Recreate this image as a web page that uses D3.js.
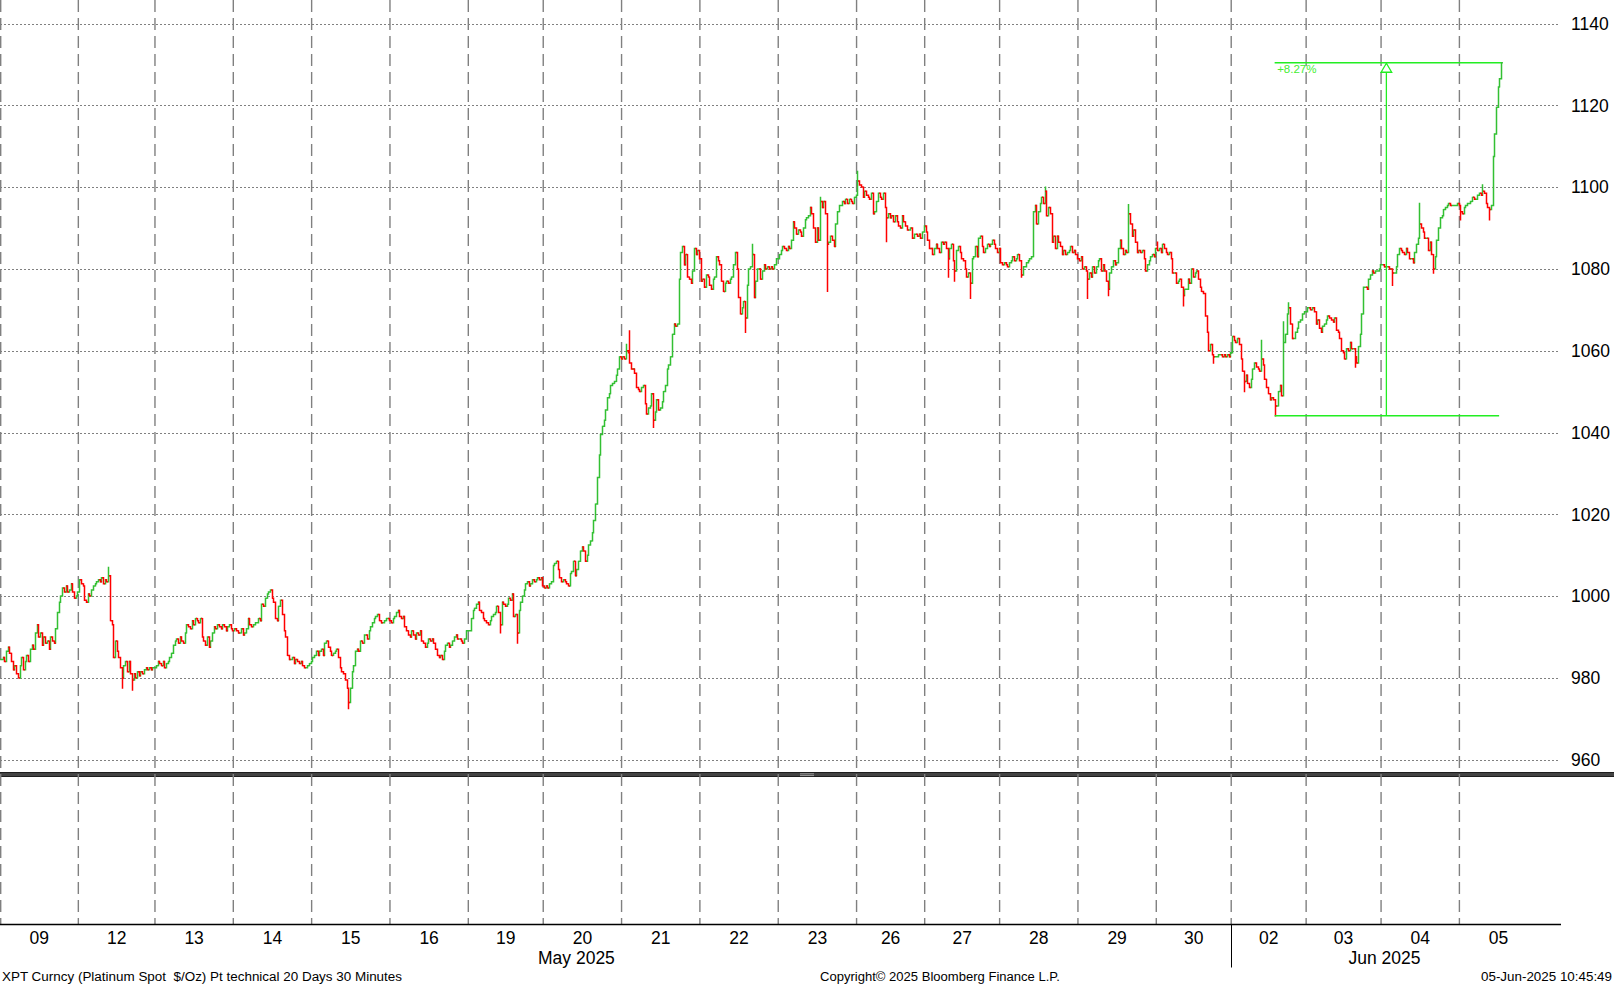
<!DOCTYPE html>
<html><head><meta charset="utf-8">
<script src="https://cdn.jsdelivr.net/npm/d3@7"></script>
<style>body{margin:0;background:#fff;} svg{display:block;}</style>
</head><body>
<svg id="c" width="1614" height="985"></svg>
<script>
// ---------- data (30-minute closes) ----------
const dayLabels = ["09","12","13","14","15","16","19","20","21","22","23","26","27","28","29","30","02","03","04","05"];
const may09 = [984.5,985,984,986.5,987.5,986,984,982,983,981,980,983,985,982,984,985.5,984,987,988,987,991,993,990,991,988,990,988.5,989,987,990,989,988.5,992,996,998.5,1000,1002,1001,1002.5,1001,1001.5,1003,1001,999.5,1000,1001];
const may12 = [1004,1003,1002.5,999,998.5,1000.5,1000,1001.5,1002.5,1003,1003.5,1004,1003.5,1004.5,1003,1004,1003.5,1005,994,993,985,989,986.5,985,982.5,980,983,984,981.5,984,981,979.5,981,980,981.5,980.5,981.5,981,982,982.5,982,982.5,982,982.5,982.5];
const may13 = [983,984,983.5,983,984,982.5,983.5,984,985,986,988,989,989.5,988.5,990,989,988.5,991,993,992.5,992,994,993,994.5,994,993.5,994.5,990,989,988,990,987.5,989,991,992.5,992,993,992.5,992,993,992.5,991.5,992.5,993,992,991.5];
const may14 = [992,991.5,991,991,992,990.5,991,992,994.5,993,992.5,993,993.5,993.5,994.5,994,998,997.5,999.5,1000.5,1001,1001.5,999.5,998.5,994.5,994,997.5,999,995.5,991.5,990,985.5,984.5,984.5,985,983.5,984.5,984,983.5,984,983,982.5,982.5,983,983.5,984];
const may15 = [985,985.5,986.5,985.5,986.5,987,985.5,988.5,989,987.5,986.5,985.5,986,986.5,987,985,982.5,981.5,981,979.5,977.5,974,977.5,981.5,983,986.5,987,986.5,989,988.5,990.5,990.5,989.5,991.5,992.5,993.5,994.5,995,995.5,994,993.5,993.5,994,994.5,994.5,994];
const may16 = [993.5,994.5,995,996,996.5,995,994.5,995,992.5,991.5,990.5,990,991.5,990.5,989.5,991,990.5,991.5,989,988.5,987.5,988.5,989.5,989,989.5,988.5,987,985.5,985,985.5,984.5,986.5,988,988.5,987.5,988,989,990,990.5,989.5,989.5,989,988.5,989.5,991.5,991.5];
const may19 = [991.5,994.5,996.5,997,998,998.5,996.5,996,994.5,994,993.5,993,994,995,995.5,996,997.5,996,993,998.5,998,997.5,998,999.5,999,1000.5,995,995.5,991,996.5,998.5,1000,1001.5,1003,1003.5,1002.5,1003,1004,1003.5,1004,1004.5,1004,1004.5,1002.5];
const may20 = [1002,1002.5,1002,1003,1003.5,1007.5,1008,1008.5,1006.5,1004.5,1003.5,1004,1003.5,1003,1002.5,1005.5,1006,1008.5,1005,1006.5,1008.5,1011,1012,1011,1008.5,1010,1012.5,1013.5,1015.5,1018.5,1022.5,1029,1034.5,1039.5,1041.5,1043,1045.5,1048.5,1049.5,1051.5,1052,1052.5,1054,1055.5,1058.5,1058];
const may21 = [1058.5,1058,1060,1059.5,1057,1055.5,1055.5,1054.5,1051,1050.5,1050,1051,1051.5,1047,1044.5,1046,1046.5,1049.5,1043,1045,1048,1045.5,1046,1047.5,1050,1051.5,1055.5,1056.5,1058.5,1064,1066.5,1066,1066.5,1077.5,1084,1085.5,1081,1083.5,1078,1077.5,1076.5,1079.5,1085,1083.5,1084.5,1082.5];
const may22 = [1077,1077.5,1075.5,1078.5,1078,1076,1075,1077.5,1078,1083,1082,1081,1077,1074.5,1076.5,1077,1076.5,1077.5,1078,1081,1084,1080,1073,1069,1070.5,1072,1068,1076,1080,1080.5,1083.5,1073,1077,1080,1080,1077.5,1079.5,1081,1080,1080.5,1080,1080.5,1080,1081,1082.5,1082.5];
const may23 = [1083.5,1084.5,1085.5,1085,1084.5,1085.5,1085,1087,1091.5,1090,1088.5,1089.5,1089,1088,1090,1092,1092.5,1093,1095,1093.5,1090,1086.5,1090,1087,1096.5,1095,1096.5,1093.5,1086,1086.5,1088,1087,1085.5,1091,1094,1095.5,1095.5,1096.5,1096,1097,1096,1097,1096.5,1096,1097.5,1098];
const may26 = [1101.5,1100.5,1100,1097.5,1099,1098,1097.5,1097,1098.5,1093.5,1094,1096.5,1098.5,1097.5,1097,1098.5,1095,1092.5,1093.5,1092.5,1093,1091.5,1093,1091.5,1090.5,1090,1093,1091.5,1090.5,1089.5,1089.5,1090,1087.5,1088.5,1088.5,1088,1088.5,1087.5,1089,1090.5];
const may27 = [1089,1087,1085,1085,1083.5,1085,1086,1085,1084,1086.5,1086,1086.5,1085,1082.5,1085,1086,1082,1079.5,1084.5,1085.5,1084,1082.5,1082,1080,1078,1079,1076.5,1082.5,1083,1085.5,1083,1087.5,1088,1085.5,1084,1085,1086,1085.5,1086,1087,1086,1085,1084,1085];
const may28 = [1081.5,1081,1081.5,1081,1080.5,1081.5,1082,1083,1082,1082.5,1083.5,1082,1078.5,1080.5,1080.5,1081.5,1082,1082.5,1083,1094,1095.5,1091,1094,1096,1097.5,1096,1099,1093,1095,1093.5,1086.5,1088,1085,1088,1086.5,1085.5,1083.5,1084.5,1083.5,1084,1084.5,1085.5,1084,1084.5,1083.5,1082.5];
const may29 = [1082,1083,1080,1080.5,1079.5,1077.5,1079,1078,1080.5,1079,1080.5,1082,1082.5,1079.5,1081,1079.5,1077,1075,1079,1080.5,1082,1081,1081.5,1085,1087,1085,1083.5,1084.5,1084,1093.5,1091,1088,1089.5,1086.5,1084,1084.5,1084,1084.5,1082.5,1079.5,1081,1082,1083,1083.5,1083,1085];
const may30 = [1084.5,1085,1084,1086,1085,1084,1083.5,1084,1082.5,1079,1079,1076.5,1077,1077.5,1075.5,1073.5,1075,1075,1077.5,1076.5,1080,1078,1079,1079.5,1077.5,1075.5,1074.5,1074,1068.5,1064.5,1060,1061.5,1059,1058.5,1058.5,1058.5,1059,1059,1058.5,1059,1058.5,1059,1058.5,1059.5];
const jun02 = [1063.5,1062.5,1062,1063,1061.5,1058,1055,1052.5,1054,1052,1051,1053,1055.5,1057,1056,1055.5,1055,1058,1056.5,1053,1051,1049.5,1048,1048.5,1048,1046.5,1046.5,1050,1051.5,1049,1062,1064,1069,1070.5,1066.5,1063,1063,1064.5,1065.5,1067,1067.5,1069,1069.5,1069.5];
const jun03 = [1070.5,1070.5,1070,1070.5,1069.5,1066.5,1067.5,1065.5,1064.5,1066,1066.5,1067.5,1068.5,1068,1067.5,1067,1068,1065,1064.5,1063,1060,1059.5,1058,1060.5,1060,1062,1060.5,1060.5,1058.5,1057,1061,1064,1069,1075.5,1075.5,1075,1077.5,1078.5,1079.5,1079,1079.5,1079.5,1080,1081];
const jun04 = [1081,1080.5,1080.5,1080.5,1080,1080,1079,1079,1080.5,1083.5,1085,1084.5,1084,1083.5,1085,1084,1082.5,1082.5,1081.5,1084,1086,1087.5,1091,1090,1089,1087.5,1087.5,1084.5,1086.5,1083.5,1080,1083,1087,1090,1092.5,1093,1094.5,1095,1095.5,1096,1095.5,1095.5,1095.5,1095.5,1096,1095.5];
const jun05 = [1094,1093.5,1095,1095.5,1096,1096,1096.5,1097.5,1097,1097,1098,1098.5,1098,1099,1098.5,1096,1095,1094.5,1095.5,1107.5,1113,1119.5,1124.5,1126.5,1130.4];
const dayCloses = [may09,may12,may13,may14,may15,may16,may19,may20,may21,may22,may23,may26,may27,may28,may29,may30,jun02,jun03,jun04,jun05];
// wicks beyond open/close: [day, bar in day, high, low]
const wicks = [
  ["12",17,1007,null],["12",25,null,977.5],["12",31,null,977],
  ["15",21,null,972.5],
  ["19",18,null,991],["19",28,null,988.5],
  ["21",2,1061.5,null],["21",4,1064.8,null],["21",18,null,1041.3],
  ["22",26,null,1064.5],["22",30,1086,null],
  ["23",24,1097.5,null],["23",28,null,1074.5],
  ["26",0,1103.8,null],["26",17,null,1086.7],
  ["27",13,null,1078],["27",17,null,1077],["27",26,null,1072.8],
  ["28",12,null,1078],["28",26,1100,null],
  ["29",5,null,1072.8],["29",17,null,1073.5],["29",29,1095.7,null],
  ["30",0,1086.5,null],["30",15,null,1071],["30",33,null,1057],
  ["02",7,null,1050],["02",17,1062.5,null],["02",25,null,1044.1],["02",30,1067,null],["02",33,1071.7,null],
  ["03",28,null,1056],
  ["04",6,null,1076],["04",22,1096,null],["04",30,null,1079],
  ["05",0,null,1092],["05",13,1100.5,null],["05",17,null,1092]
];
const yTicks = [960,980,1000,1020,1040,1060,1080,1100,1120,1140];
const months = ["May 2025","Jun 2025"];
const footLeft = "XPT Curncy (Platinum Spot\u00A0 $/Oz) Pt technical 20 Days 30 Minutes";
const footMid = "Copyright\u00A9 2025 Bloomberg Finance L.P.";
const footRight = "05-Jun-2025 10:45:49";

// ---------- build bars ----------
const bars = [], dayStart = [];
let idx = 0, prev = null;
dayCloses.forEach((arr, d) => {
  dayStart.push(idx);
  arr.forEach((c, j) => {
    const o = prev == null ? c : prev;
    bars.push({i: idx, day: dayLabels[d], j, o, c, h: Math.max(o, c), l: Math.min(o, c)});
    prev = c; idx++;
  });
});
dayStart.push(idx);
wicks.forEach(([day, j, hi, lo]) => {
  const b = bars.find(b => b.day === day && b.j === j);
  if (!b) return;
  if (hi != null) b.h = Math.max(b.h, hi);
  if (lo != null) b.l = Math.min(b.l, lo);
});

// ---------- scales ----------
const W = 1614, H = 985;
const FULL_DAY = 46;
const x = d3.scaleLinear().domain([0, dayStart[dayStart.length - 2]]).range([0, 1459.4]);
const y = d3.scaleLinear().domain([960, 1140]).range([759.7, 23.5]);
const axisY = 924.5, gridRight = 1558;

const svg = d3.select("#c");
svg.append("rect").attr("width", W).attr("height", H).attr("fill", "#fff");
const FONT = "'Liberation Sans', Arial, sans-serif";

// horizontal grid
svg.append("g").selectAll("line").data(yTicks).join("line")
  .attr("x1", 0).attr("x2", gridRight)
  .attr("y1", d => Math.round(y(d)) + 0.5).attr("y2", d => Math.round(y(d)) + 0.5)
  .attr("stroke", "#808080").attr("stroke-width", 1).attr("stroke-dasharray", "2,2");

// panel separator band
svg.append("rect").attr("x", 0).attr("y", 772).attr("width", W).attr("height", 5).attr("fill", "#434343");
svg.append("line").attr("x1", 0).attr("x2", W).attr("y1", 772.5).attr("y2", 772.5).attr("stroke", "#1e1e1e");
svg.append("line").attr("x1", 0).attr("x2", W).attr("y1", 776.5).attr("y2", 776.5).attr("stroke", "#1e1e1e");

// vertical day separators
const seps = dayStart.slice(0, dayStart.length - 1);
svg.append("g").selectAll("line").data(seps).join("line")
  .attr("x1", d => Math.max(0.7, x(d))).attr("x2", d => Math.max(0.7, x(d)))
  .attr("y1", 0).attr("y2", axisY)
  .attr("stroke", "#808080").attr("stroke-width", 1.4).attr("stroke-dasharray", "12,6");

// handle
[773.8, 775.6].forEach(yy => svg.append("line").attr("x1", 800).attr("x2", 814).attr("y1", yy).attr("y2", yy)
  .attr("stroke", "#b0b0b0").attr("stroke-width", 0.8));

// OHLC bars
const upPath = d3.path(), dnPath = d3.path();
bars.forEach(b => {
  const cx = Math.round(x(b.i + 0.5)) + 0.5;
  const p = b.c >= b.o ? upPath : dnPath;
  const yh = y(b.h), yl = y(b.l);
  p.moveTo(cx, yh - 0.7); p.lineTo(cx, yl + 0.7);
  p.moveTo(cx - 1.4, y(b.o)); p.lineTo(cx, y(b.o));
  p.moveTo(cx, y(b.c)); p.lineTo(cx + 1.4, y(b.c));
});
svg.append("path").attr("d", upPath.toString()).attr("fill", "none").attr("stroke", "#33c033").attr("stroke-width", 1.5);
svg.append("path").attr("d", dnPath.toString()).attr("fill", "none").attr("stroke", "#ff0000").attr("stroke-width", 1.5);

// annotation (low of Jun 02 -> last bar)
const sub = bars.filter(b => b.i >= dayStart[16]);
const lowBar = d3.least(sub, b => b.l);
const lastBar = bars[bars.length - 1];
const hiVal = lastBar.h, loVal = lowBar.l;
const ax1 = x(lowBar.i + 0.5), ax2 = x(lastBar.i + 0.5);
const amid = (ax1 + ax2) / 2 - 1.5;
const ag = svg.append("g").attr("stroke", "#22ee22").attr("stroke-width", 1.3).attr("fill", "none");
ag.append("line").attr("x1", ax1).attr("x2", ax2).attr("y1", y(hiVal)).attr("y2", y(hiVal));
ag.append("line").attr("x1", ax1).attr("x2", ax2 - 2).attr("y1", y(loVal)).attr("y2", y(loVal));
ag.append("line").attr("x1", amid).attr("x2", amid).attr("y1", y(loVal)).attr("y2", y(hiVal) + 9.5);
ag.append("path").attr("d", `M${amid},${y(hiVal) + 0.5} L${amid - 5.3},${y(hiVal) + 9.5} L${amid + 5.3},${y(hiVal) + 9.5} Z`).attr("fill", "#fff");
const pct = ((hiVal / loVal - 1) * 100).toFixed(2);
svg.append("text").attr("x", ax1 + 2.5).attr("y", y(hiVal) + 10.5).text("+" + pct + "%")
  .attr("font-family", FONT).attr("font-size", 11.5).attr("fill", "#44ee33");

// y labels
svg.append("g").selectAll("text").data(yTicks).join("text")
  .attr("x", 1571).attr("y", d => y(d) + 6.3).text(d => d)
  .attr("font-family", FONT).attr("font-size", 17.5).attr("fill", "#000");

// x axis
svg.append("line").attr("x1", 0).attr("x2", 1561).attr("y1", axisY).attr("y2", axisY).attr("stroke", "#000").attr("stroke-width", 1.3);
const juneIdx = dayStart[16];
svg.append("line").attr("x1", Math.round(x(juneIdx)) + 0.5).attr("x2", Math.round(x(juneIdx)) + 0.5)
  .attr("y1", axisY).attr("y2", 967.5).attr("stroke", "#000").attr("stroke-width", 1);
const centers = dayLabels.map((d, k) => {
  const s = dayStart[k];
  const e = k === dayLabels.length - 1 ? s + FULL_DAY : dayStart[k + 1];
  return (x(s) + x(e)) / 2;
});
svg.append("g").selectAll("text").data(dayLabels).join("text")
  .attr("x", (d, k) => centers[k]).attr("y", 943.5).attr("text-anchor", "middle").text(d => d)
  .attr("font-family", FONT).attr("font-size", 17.5).attr("fill", "#000");
const mayC = (x(-FULL_DAY) + x(juneIdx)) / 2;
const junC = (x(juneIdx) + x(dayStart[19] + FULL_DAY)) / 2;
svg.append("g").selectAll("text").data(months).join("text")
  .attr("x", (d, k) => k === 0 ? mayC : junC).attr("y", 963.5).attr("text-anchor", "middle").text(d => d)
  .attr("font-family", FONT).attr("font-size", 17.5).attr("fill", "#000");

// footer
const foot = svg.append("g").attr("font-family", FONT).attr("font-size", 12.5).attr("fill", "#000");
foot.append("text").attr("x", 2).attr("y", 980.5).text(footLeft).attr("textLength", 400).attr("lengthAdjust", "spacingAndGlyphs");
foot.append("text").attr("x", 820).attr("y", 980.5).text(footMid).attr("textLength", 240).attr("lengthAdjust", "spacingAndGlyphs");
foot.append("text").attr("x", 1481).attr("y", 980.5).text(footRight).attr("textLength", 131).attr("lengthAdjust", "spacingAndGlyphs");
</script>
</body></html>
